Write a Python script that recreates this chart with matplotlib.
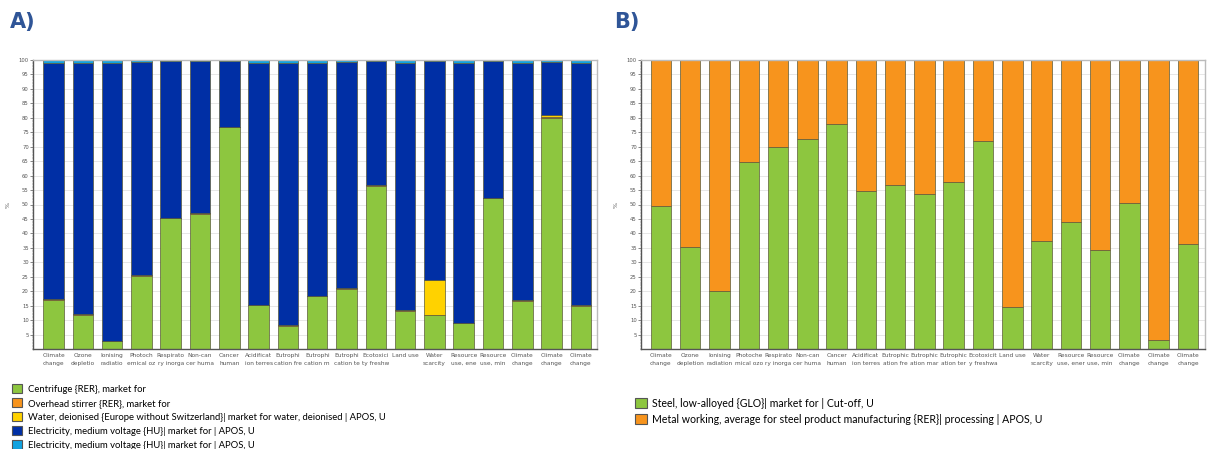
import matplotlib
matplotlib.use("Agg")
import matplotlib.pyplot as plt
from matplotlib.patches import Patch
import numpy as np

# ---- data ----
labels_a = ["Climate\nchange", "Ozone\ndepletio", "Ionising\nradiatio", "Photoch\nemical oz",
            "Respirato\nry inorga", "Non-can\ncer huma", "Cancer\nhuman", "Acidificat\nion terres",
            "Eutrophi\ncation fre", "Eutrophi\ncation m", "Eutrophi\ncation te", "Ecotoxici\nty freshw",
            "Land use", "Water\nscarcity", "Resource\nuse, ene", "Resource\nuse, min",
            "Climate\nchange", "Climate\nchange", "Climate\nchange"]
labels_b = ["Climate\nchange", "Ozone\ndepletion", "Ionising\nradiation", "Photoche\nmical ozo",
            "Respirato\nry inorga", "Non-can\ncer huma", "Cancer\nhuman", "Acidificat\nion terres",
            "Eutrophic\nation fre", "Eutrophic\nation mar", "Eutrophic\nation ter", "Ecotoxicit\ny freshwa",
            "Land use", "Water\nscarcity", "Resource\nuse, ener", "Resource\nuse, min",
            "Climate\nchange", "Climate\nchange", "Climate\nchange"]

centrifuge = [17.1, 11.8, 2.8, 25.4, 45.2, 46.8, 76.8, 15.1, 8.1, 18.2, 20.9, 56.5,
              13.3, 11.8, 9.0, 52.2, 16.6, 79.9, 15.0]
stirrer = [0.3, 0.3, 0.1, 0.1, 0.3, 0.3, 0.1, 0.1, 0.1, 0.2, 0.1, 0.1,
           0.1, 0.1, 0.1, 0.2, 0.2, 0.4, 0.1]
water = [0.0, 0.0, 0.0, 0.0, 0.0, 0.0, 0.0, 0.0, 0.0, 0.0, 0.0, 0.0,
         0.0, 11.9, 0.0, 0.0, 0.0, 0.8, 0.0]
elec_light = [1.0, 1.0, 0.9, 0.7, 0.4, 0.4, 0.5, 1.0, 1.0, 1.0, 0.7, 0.3,
              1.0, 0.5, 1.0, 0.4, 1.0, 0.8, 1.0]
elec_dark = [100 - c - s - w - l for c, s, w, l in zip(centrifuge, stirrer, water, elec_light)]

steel = [49.6, 35.4, 20.2, 64.8, 69.8, 72.6, 78.0, 54.8, 56.8, 53.5, 57.8, 72.0,
         14.5, 37.3, 43.8, 34.3, 50.5, 3.0, 36.3]
metal = [100 - s for s in steel]

legend_a = ["Centrifuge {RER}, market for",
            "Overhead stirrer {RER}, market for",
            "Water, deionised {Europe without Switzerland}| market for water, deionised | APOS, U",
            "Electricity, medium voltage {HU}| market for | APOS, U",
            "Electricity, medium voltage {HU}| market for | APOS, U"]
legend_b = ["Steel, low-alloyed {GLO}| market for | Cut-off, U",
            "Metal working, average for steel product manufacturing {RER}| processing | APOS, U"]

GREEN = "#8DC63F"
ORANGE = "#F7941D"
YELLOW = "#FFD200"
DBLUE = "#002FA5"
LBLUE = "#12A3E0"
EDGE = "#5a5a3a"
TITLE_C = "#2F5597"

fig = plt.figure(figsize=(12.08, 4.49), dpi=100)


def style_axes(ax, labels):
    n = len(labels)
    ax.set_ylim(0, 100)
    ax.set_yticks(np.arange(5, 101, 5))
    ax.set_yticks(np.arange(0, 101, 1), minor=True)
    ax.tick_params(axis="y", which="major", labelsize=3.8, length=2, width=0.5,
                   colors="#555555", pad=1)
    ax.tick_params(axis="y", which="minor", length=1, width=0.3, colors="#777777")
    ax.set_xticks(np.arange(n))
    ax.set_xticklabels(labels, fontsize=4.2, color="#555555", linespacing=1.6)
    ax.tick_params(axis="x", length=0, pad=3)
    ax.yaxis.grid(True, color="#e3e3e3", lw=0.6)
    ax.set_axisbelow(True)
    for side in ["top", "right"]:
        ax.spines[side].set_color("#bbbbbb")
        ax.spines[side].set_linewidth(1.0)
    for side in ["left", "bottom"]:
        ax.spines[side].set_color("#555555")
        ax.spines[side].set_linewidth(1.0)
    ax.set_ylabel("%", fontsize=4.5, color="#555555", labelpad=6)


w = 0.7

# ---- panel A ----
axA = fig.add_axes([33 / 1208, 1 - 349 / 449, (597 - 33) / 1208, (349 - 60) / 449])
xa = np.arange(len(labels_a))
bottom = np.zeros(len(xa))
for vals, col in [(centrifuge, GREEN), (stirrer, ORANGE), (water, YELLOW),
                  (elec_dark, DBLUE), (elec_light, LBLUE)]:
    v = np.array(vals)
    axA.bar(xa, v, w, bottom=bottom, color=col, edgecolor=EDGE, linewidth=0.5)
    bottom += v
style_axes(axA, labels_a)
axA.set_xlim(-0.7, len(labels_a) - 0.45)

# ---- panel B ----
axB = fig.add_axes([641 / 1208, 1 - 349 / 449, (1205 - 641) / 1208, (349 - 60) / 449])
xb = np.arange(len(labels_b))
axB.bar(xb, steel, w, color=GREEN, edgecolor=EDGE, linewidth=0.5)
axB.bar(xb, metal, w, bottom=steel, color=ORANGE, edgecolor=EDGE, linewidth=0.5)
style_axes(axB, labels_b)
axB.set_xlim(-0.68, len(labels_b) - 0.42)

# ---- titles ----
fig.text(10 / 1208, 1 - 22 / 449, "A)", fontsize=15, fontweight="bold", color=TITLE_C,
         va="center", ha="left")
fig.text(614 / 1208, 1 - 22 / 449, "B)", fontsize=15, fontweight="bold", color=TITLE_C,
         va="center", ha="left")

# ---- legends ----
cols_a = [GREEN, ORANGE, YELLOW, DBLUE, LBLUE]
handles_a = [Patch(facecolor=c, edgecolor="#555555", linewidth=0.8) for c in cols_a]
fig.legend(handles_a, legend_a, loc="upper left", bbox_to_anchor=(12 / 1208, 1 - 384 / 449),
           frameon=False, prop={"family": "Lato", "size": 6.8}, handlelength=1.1,
           handleheight=1.1, handletextpad=0.6, labelspacing=0.46, borderaxespad=0,
           borderpad=0)

cols_b = [GREEN, ORANGE]
handles_b = [Patch(facecolor=c, edgecolor="#555555", linewidth=0.8) for c in cols_b]
fig.legend(handles_b, legend_b, loc="upper left", bbox_to_anchor=(635 / 1208, 1 - 398 / 449),
           frameon=False, prop={"family": "Lato", "size": 7.6}, handlelength=1.1,
           handleheight=1.1, handletextpad=0.55, labelspacing=0.45, borderaxespad=0,
           borderpad=0)

fig.savefig("out.png", dpi=100)
